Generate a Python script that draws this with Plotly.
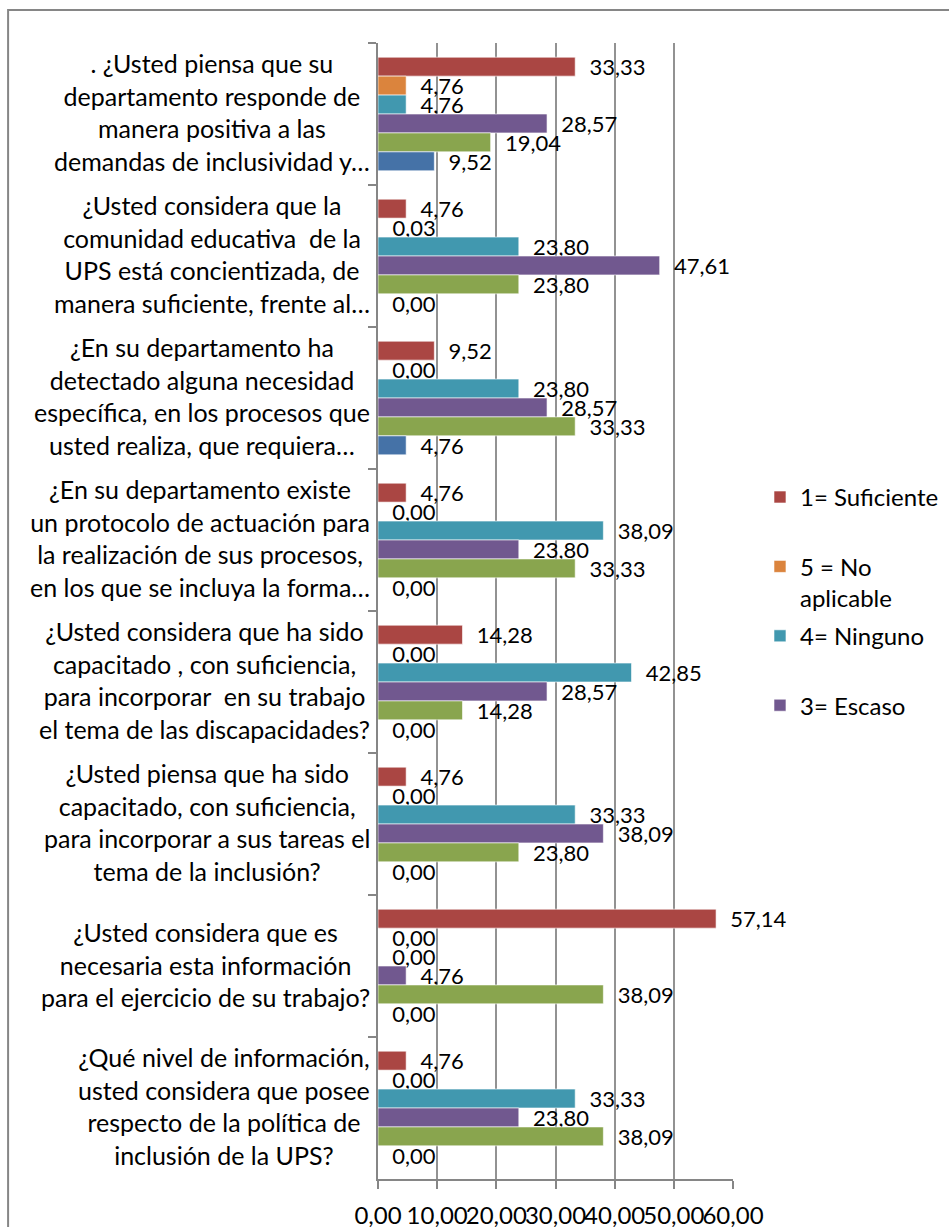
import plotly.graph_objects as go

FONT = 'Lato, Carlito, Calibri, sans-serif'

questions = [
    '. ¿Usted piensa que su<br>departamento responde de<br>manera positiva a las<br>demandas de inclusividad y…',
    '¿Usted considera que la<br>comunidad educativa  de la<br>UPS está concientizada, de<br>manera suficiente, frente al…',
    '¿En su departamento ha<br>detectado alguna necesidad<br>específica, en los procesos que<br>usted realiza, que requiera…',
    '¿En su departamento existe<br>un protocolo de actuación para<br>la realización de sus procesos,<br>en los que se incluya la forma…',
    '¿Usted considera que ha sido<br>capacitado , con suficiencia,<br>para incorporar  en su trabajo<br>el tema de las discapacidades?',
    '¿Usted piensa que ha sido<br>capacitado, con suficiencia,<br>para incorporar a sus tareas el<br>tema de la inclusión?',
    '¿Usted considera que es<br>necesaria esta información<br>para el ejercicio de su trabajo?',
    '¿Qué nivel de información,<br>usted considera que posee<br>respecto de la política de<br>inclusión de la UPS?',
]
categories = [f'q{i}' for i in range(len(questions))]

suficiente = [33.33, 4.76, 9.52, 4.76, 14.28, 4.76, 57.14, 4.76]
no_aplicable = [4.76, 0.03, 0.00, 0.00, 0.00, 0.00, 0.00, 0.00]
ninguno = [4.76, 23.80, 23.80, 38.09, 42.85, 33.33, 0.00, 33.33]
escaso = [28.57, 47.61, 28.57, 23.80, 28.57, 38.09, 4.76, 23.80]
serie_verde = [19.04, 23.80, 33.33, 33.33, 14.28, 23.80, 38.09, 38.09]
serie_azul = [9.52, 0.00, 4.76, 0.00, 0.00, 0.00, 0.00, 0.00]

series = [
    ('1= Suficiente<br>\u00a0', suficiente, '#AA4643', True),
    ('5 = No<br>aplicable', no_aplicable, '#DB843D', True),
    ('4= Ninguno<br>\u00a0', ninguno, '#4198AF', True),
    ('3= Escaso<br>\u00a0', escaso, '#71588F', True),
    ('2', serie_verde, '#89A54E', False),
    ('0', serie_azul, '#4572A7', False),
]


def label(v):
    return '\u00a0\u00a0' + f'{v:.2f}'.replace('.', ',')


fig = go.Figure()
for i, (name, values, color, show) in enumerate(series):
    fig.add_trace(go.Bar(
        y=categories, x=values, orientation='h', name=name,
        marker=dict(color=color, line=dict(color='rgba(255,255,255,0.6)', width=1)),
        text=[label(v) for v in values], textposition='outside',
        textfont=dict(family=FONT, size=22, color='black'),
        constraintext='none', cliponaxis=False,
        showlegend=show, legendgroup=f'g{i}',
    ))

for cat, q in zip(categories, questions):
    fig.add_annotation(
        x=0, xref='paper', y=cat, yref='y', xanchor='right', xshift=-6, yshift=2,
        text=q, align='center', showarrow=False,
        font=dict(family=FONT, size=25, color='black'),
    )

# outer chart frame (left/top edges visible, the rest falls outside the picture)
fig.add_shape(type='rect', xref='paper', yref='paper',
              x0=-1.042, x1=1.8, y0=-0.2, y1=1.029,
              line=dict(color='#868686', width=2), layer='below')

fig.update_layout(
    width=949, height=1227,
    margin=dict(l=378, r=216, t=43, b=48, autoexpand=False),
    paper_bgcolor='white', plot_bgcolor='white',
    barmode='group', bargap=0.2, bargroupgap=0,
    font=dict(family=FONT, size=22, color='black'),
    separators=',.',
    showlegend=True,
    legend=dict(
        x=1.076, y=0.6198, xanchor='left', yanchor='top',
        traceorder='grouped', tracegroupgap=4, valign='top',
        font=dict(family=FONT, size=24, color='black'),
        bgcolor='rgba(0,0,0,0)',
    ),
    xaxis=dict(
        range=[0, 60], dtick=10, tickformat='.2f', tickangle=0,
        showgrid=True, gridcolor='#929292', gridwidth=2,
        showline=True, linecolor='#868686', linewidth=2,
        ticks='outside', ticklen=8, tickcolor='#868686', tickwidth=2,
        ticklabelstandoff=6,
        zeroline=False, fixedrange=True, automargin=False,
        tickfont=dict(family=FONT, size=24, color='black'),
    ),
    yaxis=dict(
        autorange='reversed', showticklabels=False,
        showline=True, linecolor='#868686', linewidth=2,
        ticks='outside', ticklen=8, tickcolor='#868686', tickwidth=2,
        tickson='boundaries', showgrid=False, zeroline=False,
        automargin=False, fixedrange=True,
    ),
)

fig.write_html('out.html', config={'displayModeBar': False},
               post_script="document.body.style.margin='0';")
